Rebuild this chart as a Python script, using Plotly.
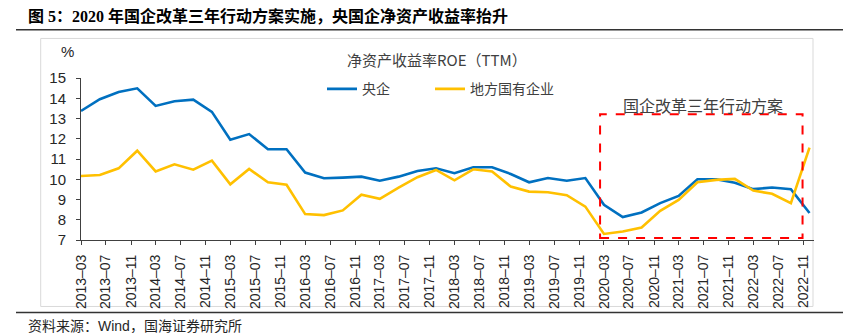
import plotly.graph_objects as go

# ---------------- data ----------------
dates = [
    "2013-03-01", "2013-06-01", "2013-09-01", "2013-12-01",
    "2014-03-01", "2014-06-01", "2014-09-01", "2014-12-01",
    "2015-03-01", "2015-06-01", "2015-09-01", "2015-12-01",
    "2016-03-01", "2016-06-01", "2016-09-01", "2016-12-01",
    "2017-03-01", "2017-06-01", "2017-09-01", "2017-12-01",
    "2018-03-01", "2018-06-01", "2018-09-01", "2018-12-01",
    "2019-03-01", "2019-06-01", "2019-09-01", "2019-12-01",
    "2020-03-01", "2020-06-01", "2020-09-01", "2020-12-01",
    "2021-03-01", "2021-06-01", "2021-09-01", "2021-12-01",
    "2022-03-01", "2022-06-01", "2022-09-01", "2022-12-01",
]
central_soe = [
    13.37, 13.95, 14.31, 14.49, 13.62, 13.85, 13.93, 13.33,
    11.95, 12.23, 11.48, 11.48, 10.33, 10.05, 10.08, 10.13,
    9.93, 10.13, 10.41, 10.54, 10.30, 10.59, 10.59, 10.26,
    9.85, 10.06, 9.93, 10.06, 8.74, 8.13, 8.36, 8.82,
    9.18, 10.00, 10.00, 9.83, 9.51, 9.59, 9.51, 8.33,
]
local_soe = [
    10.16, 10.21, 10.54, 11.41, 10.39, 10.74, 10.47, 10.92,
    9.75, 10.51, 9.85, 9.73, 8.28, 8.23, 8.46, 9.24,
    9.03, 9.59, 10.10, 10.46, 9.95, 10.49, 10.38, 9.64,
    9.39, 9.36, 9.21, 8.65, 7.30, 7.42, 7.62, 8.44,
    8.98, 9.85, 9.97, 10.02, 9.44, 9.28, 8.82, 11.56,
]
series_names = ["央企", "地方国有企业"]
tick_dates = [
    "2013-03-01", "2013-07-01", "2013-11-01", "2014-03-01", "2014-07-01", "2014-11-01",
    "2015-03-01", "2015-07-01", "2015-11-01", "2016-03-01", "2016-07-01", "2016-11-01",
    "2017-03-01", "2017-07-01", "2017-11-01", "2018-03-01", "2018-07-01", "2018-11-01",
    "2019-03-01", "2019-07-01", "2019-11-01", "2020-03-01", "2020-07-01", "2020-11-01",
    "2021-03-01", "2021-07-01", "2021-11-01", "2022-03-01", "2022-07-01", "2022-11-01",
]
tick_labels = [
    "2013–03", "2013–07", "2013–11", "2014–03", "2014–07", "2014–11",
    "2015–03", "2015–07", "2015–11", "2016–03", "2016–07", "2016–11",
    "2017–03", "2017–07", "2017–11", "2018–03", "2018–07", "2018–11",
    "2019–03", "2019–07", "2019–11", "2020–03", "2020–07", "2020–11",
    "2021–03", "2021–07", "2021–11", "2022–03", "2022–07", "2022–11",
]
y_ticks = [7, 8, 9, 10, 11, 12, 13, 14, 15]

title_text = "图 5：2020 年国企改革三年行动方案实施，央国企净资产收益率抬升"
legend_title = "净资产收益率ROE（TTM）"
box_label = "国企改革三年行动方案"
source_text = "资料来源：Wind，国海证券研究所"

# ---------------- layout geometry ----------------
W, H = 845, 333
L, R, T, B = 81, 814, 77.7, 240.3


def px(x):
    return (x - L) / (R - L)


def py(y):
    return (B - y) / (B - T)


CJK = "Noto Sans CJK SC"
ARIAL = "Liberation Sans, " + CJK

fig = go.Figure()
fig.add_trace(go.Scatter(x=dates, y=central_soe, mode="lines", name=series_names[0],
                         line=dict(color="#0070C0", width=2.6), legend="legend"))
fig.add_trace(go.Scatter(x=dates, y=local_soe, mode="lines", name=series_names[1],
                         line=dict(color="#FFC000", width=2.6), legend="legend2"))

legend_common = dict(orientation="h", yanchor="middle", xanchor="left",
                     font=dict(family=CJK, size=14, color="#404040"),
                     bgcolor="rgba(0,0,0,0)", itemwidth=30)

fig.update_layout(
    width=W, height=H,
    margin=dict(l=L, r=W - R, t=T, b=H - B, pad=0),
    plot_bgcolor="white", paper_bgcolor="white",
    font=dict(family=ARIAL, color="#262626", size=14),
    showlegend=True,
    legend=dict(x=px(322), y=py(89), **legend_common),
    legend2=dict(x=px(430), y=py(89), **legend_common),
    xaxis=dict(type="date", range=["2013-03-01", "2022-12-23"],
               tickmode="array", tickvals=tick_dates, ticktext=tick_labels,
               tickangle=-90, tickfont=dict(family=ARIAL, size=14, color="#262626"),
               ticks="outside", ticklen=4, tickcolor="#404040", tickwidth=1,
               showline=True, linecolor="#404040", linewidth=1,
               showgrid=False, zeroline=False, ticklabelstandoff=4),
    yaxis=dict(range=[7, 15], tickmode="array", tickvals=y_ticks,
               tickfont=dict(family=ARIAL, size=15, color="#262626"),
               ticks="outside", ticklen=4, tickcolor="#404040", tickwidth=1,
               showline=True, linecolor="#404040", linewidth=1,
               showgrid=False, zeroline=False, ticklabelstandoff=7),
)

shapes = [
    # outer chart frame
    dict(type="rect", xref="paper", yref="paper", x0=px(40.7), x1=px(813), y0=py(38), y1=py(307),
         line=dict(color="#D9D9D9", width=1), layer="below"),
    # title rule & bottom rule
    dict(type="line", xref="paper", yref="paper", x0=px(16), x1=px(843), y0=py(29.3), y1=py(29.3),
         line=dict(color="#333333", width=1.5)),
    dict(type="line", xref="paper", yref="paper", x0=px(16), x1=px(843), y0=py(313), y1=py(313),
         line=dict(color="#333333", width=1.5)),
    # reform period dashed box
    dict(type="rect", xref="x", yref="y", x0="2020-02-11", x1="2022-10-28", y0=7.1, y1=13.21,
         line=dict(color="#FF0000", width=2, dash="dash"), layer="above"),
]
fig.update_layout(shapes=shapes)

annotations = [
    dict(text="<b>" + title_text + "</b>", xref="paper", yref="paper", x=px(26), y=py(15),
         xanchor="left", yanchor="middle", showarrow=False,
         font=dict(family="Liberation Serif, " + CJK, size=16, color="#000000")),
    dict(text=source_text, xref="paper", yref="paper", x=px(26), y=py(327),
         xanchor="left", yanchor="middle", showarrow=False,
         font=dict(family=ARIAL, size=14, color="#262626")),
    dict(text="%", xref="paper", yref="paper", x=px(67.5), y=py(51),
         xanchor="center", yanchor="middle", showarrow=False,
         font=dict(family=ARIAL, size=15, color="#262626")),
    dict(text=legend_title, xref="paper", yref="paper", x=px(437), y=py(59),
         xanchor="center", yanchor="middle", showarrow=False,
         font=dict(family=CJK, size=15, color="#404040")),
    dict(text=box_label, xref="paper", yref="paper", x=px(703), y=py(105),
         xanchor="center", yanchor="middle", showarrow=False,
         font=dict(family=CJK, size=16, color="#404040")),
]
fig.update_layout(annotations=annotations)

fig.write_html("out.html")
